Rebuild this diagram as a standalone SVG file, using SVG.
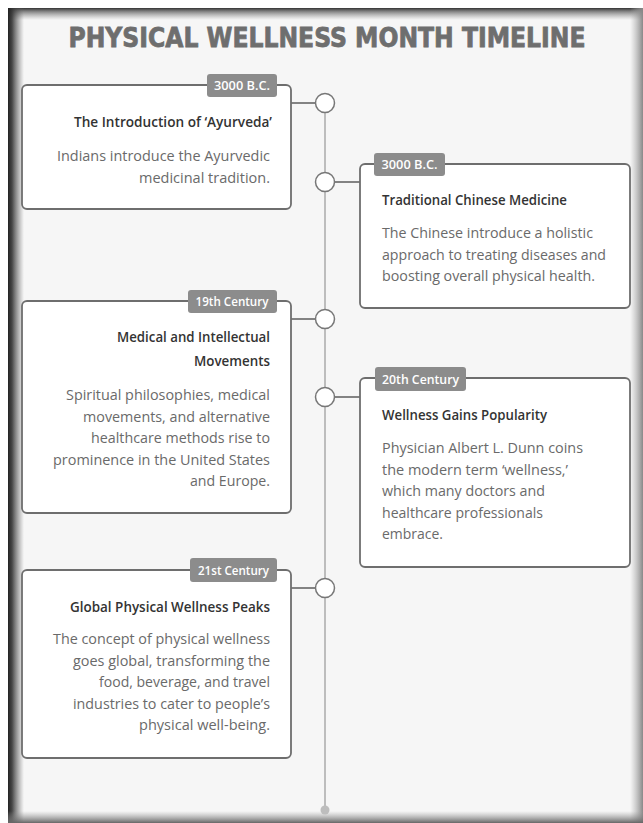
<svg xmlns="http://www.w3.org/2000/svg" width="643" height="823" viewBox="0 0 643 823">
<defs>
<linearGradient id="gl" x1="0" y1="0" x2="1" y2="0"><stop offset="0" stop-color="#222" stop-opacity="1"/><stop offset="0.25" stop-color="#333" stop-opacity="0.9"/><stop offset="1" stop-color="#666" stop-opacity="0"/></linearGradient>
<linearGradient id="gt" x1="0" y1="0" x2="0" y2="1"><stop offset="0" stop-color="#333" stop-opacity="1"/><stop offset="0.3" stop-color="#555" stop-opacity="0.7"/><stop offset="1" stop-color="#888" stop-opacity="0"/></linearGradient>
<linearGradient id="gr" x1="1" y1="0" x2="0" y2="0"><stop offset="0" stop-color="#888" stop-opacity="1"/><stop offset="1" stop-color="#aaa" stop-opacity="0"/></linearGradient>
<linearGradient id="gb" x1="0" y1="1" x2="0" y2="0"><stop offset="0" stop-color="#666" stop-opacity="1"/><stop offset="1" stop-color="#999" stop-opacity="0"/></linearGradient>
</defs>
<style>
.card{fill:#fff;stroke:#6e6e6e;stroke-width:1.8}
.tag{fill:#8c8c8c}
.tagt{fill:#fff;font-family:"Open Sans","DejaVu Sans",sans-serif;font-size:12px;font-weight:600}
.h{fill:#333;font-family:"Open Sans","DejaVu Sans",sans-serif;font-size:13.5px;font-weight:600}
.b{fill:#6a6a6a;font-family:"Open Sans","DejaVu Sans",sans-serif;font-size:13.8px}
.l{text-anchor:end}
.con{stroke:#777;stroke-width:1.8;fill:none}
.dot{fill:#fff;stroke:#777;stroke-width:1.5}
</style>
<rect x="0" y="0" width="643" height="823" fill="#fff"/>
<rect x="8" y="8" width="635" height="815" fill="#f6f6f6"/>
<rect x="8" y="8" width="635" height="12" fill="url(#gt)"/>
<rect x="8" y="8" width="16" height="815" fill="url(#gl)"/>
<rect x="630" y="8" width="13" height="815" fill="url(#gr)"/>
<rect x="8" y="811" width="635" height="12" fill="url(#gb)"/>
<text x="327" y="47" text-anchor="middle" textLength="517" lengthAdjust="spacingAndGlyphs" font-family="'DejaVu Sans',sans-serif" font-weight="bold" font-size="26" fill="#6e6e6e" stroke="#6e6e6e" stroke-width="0.8">PHYSICAL WELLNESS MONTH TIMELINE</text>
<g id="connectors">
<line x1="325" y1="103" x2="325" y2="810" stroke="#bdbdbd" stroke-width="2"/>
<circle cx="325" cy="810" r="4.5" fill="#bdbdbd"/>
<line class="con" x1="291" y1="103" x2="316" y2="103"/>
<line class="con" x1="334" y1="182" x2="360" y2="182"/>
<line class="con" x1="291" y1="319" x2="316" y2="319"/>
<line class="con" x1="334" y1="397" x2="360" y2="397"/>
<line class="con" x1="291" y1="588" x2="316" y2="588"/>
<circle class="dot" cx="325" cy="103" r="9.5"/>
<circle class="dot" cx="325" cy="182" r="9.5"/>
<circle class="dot" cx="325" cy="319" r="9.5"/>
<circle class="dot" cx="325" cy="397" r="9.5"/>
<circle class="dot" cx="325" cy="588" r="9.5"/>
</g>
<g id="n1">
<rect class="card" x="22" y="85" width="269" height="124" rx="5"/>
<rect class="tag" x="207" y="74" width="70" height="23" rx="3"/>
<text class="tagt" x="242" y="90" text-anchor="middle" textLength="56" lengthAdjust="spacingAndGlyphs">3000 B.C.</text>
<text class="h l" x="272" y="127" textLength="198" lengthAdjust="spacingAndGlyphs">The Introduction of ‘Ayurveda’</text>
<text class="b l" x="270" y="161" textLength="213" lengthAdjust="spacingAndGlyphs">Indians introduce the Ayurvedic</text>
<text class="b l" x="270" y="183" textLength="131" lengthAdjust="spacingAndGlyphs">medicinal tradition.</text>
</g>
<g id="n2">
<rect class="card" x="360" y="164" width="270" height="144" rx="5"/>
<rect class="tag" x="374" y="153" width="71" height="23" rx="3"/>
<text class="tagt" x="409.5" y="169" text-anchor="middle" textLength="56" lengthAdjust="spacingAndGlyphs">3000 B.C.</text>
<text class="h" x="382" y="205" textLength="185" lengthAdjust="spacingAndGlyphs">Traditional Chinese Medicine</text>
<text class="b" x="382" y="238" textLength="211" lengthAdjust="spacingAndGlyphs">The Chinese introduce a holistic</text>
<text class="b" x="382" y="259.5" textLength="224" lengthAdjust="spacingAndGlyphs">approach to treating diseases and</text>
<text class="b" x="382" y="281" textLength="213" lengthAdjust="spacingAndGlyphs">boosting overall physical health.</text>
</g>
<g id="n3">
<rect class="card" x="22" y="301" width="269" height="212" rx="5"/>
<rect class="tag" x="188" y="290" width="89" height="23" rx="3"/>
<text class="tagt" x="232" y="306" text-anchor="middle" textLength="73" lengthAdjust="spacingAndGlyphs">19th Century</text>
<text class="h l" x="270" y="342" textLength="153" lengthAdjust="spacingAndGlyphs">Medical and Intellectual</text>
<text class="h l" x="270" y="366" textLength="76" lengthAdjust="spacingAndGlyphs">Movements</text>
<text class="b l" x="270" y="400" textLength="204" lengthAdjust="spacingAndGlyphs">Spiritual philosophies, medical</text>
<text class="b l" x="270" y="421.6" textLength="187" lengthAdjust="spacingAndGlyphs">movements, and alternative</text>
<text class="b l" x="270" y="443.2" textLength="179" lengthAdjust="spacingAndGlyphs">healthcare methods rise to</text>
<text class="b l" x="270" y="464.8" textLength="217" lengthAdjust="spacingAndGlyphs">prominence in the United States</text>
<text class="b l" x="270" y="486.4" textLength="80" lengthAdjust="spacingAndGlyphs">and Europe.</text>
</g>
<g id="n4">
<rect class="card" x="360" y="378" width="270" height="189" rx="5"/>
<rect class="tag" x="375" y="367" width="91" height="24" rx="3"/>
<text class="tagt" x="420.5" y="383.5" text-anchor="middle" textLength="77" lengthAdjust="spacingAndGlyphs">20th Century</text>
<text class="h" x="382" y="420" textLength="165" lengthAdjust="spacingAndGlyphs">Wellness Gains Popularity</text>
<text class="b" x="382" y="453" textLength="201" lengthAdjust="spacingAndGlyphs">Physician Albert L. Dunn coins</text>
<text class="b" x="382" y="474.5" textLength="186" lengthAdjust="spacingAndGlyphs">the modern term ‘wellness,’</text>
<text class="b" x="382" y="496" textLength="163" lengthAdjust="spacingAndGlyphs">which many doctors and</text>
<text class="b" x="382" y="517.5" textLength="161" lengthAdjust="spacingAndGlyphs">healthcare professionals</text>
<text class="b" x="382" y="539" textLength="61" lengthAdjust="spacingAndGlyphs">embrace.</text>
</g>
<g id="n5">
<rect class="card" x="22" y="570" width="269" height="188" rx="5"/>
<rect class="tag" x="190" y="558" width="87" height="24" rx="3"/>
<text class="tagt" x="233.5" y="574.5" text-anchor="middle" textLength="71" lengthAdjust="spacingAndGlyphs">21st Century</text>
<text class="h l" x="270" y="612" textLength="200" lengthAdjust="spacingAndGlyphs">Global Physical Wellness Peaks</text>
<text class="b l" x="270" y="644" textLength="217" lengthAdjust="spacingAndGlyphs">The concept of physical wellness</text>
<text class="b l" x="270" y="665.6" textLength="197" lengthAdjust="spacingAndGlyphs">goes global, transforming the</text>
<text class="b l" x="270" y="687.2" textLength="171" lengthAdjust="spacingAndGlyphs">food, beverage, and travel</text>
<text class="b l" x="270" y="708.8" textLength="197" lengthAdjust="spacingAndGlyphs">industries to cater to people’s</text>
<text class="b l" x="270" y="730.4" textLength="131" lengthAdjust="spacingAndGlyphs">physical well-being.</text>
</g>
</svg>
